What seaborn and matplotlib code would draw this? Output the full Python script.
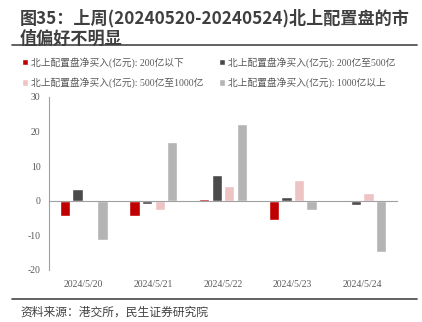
import matplotlib
matplotlib.use("Agg")
import matplotlib.pyplot as plt
from matplotlib.lines import Line2D
from matplotlib.ticker import FixedLocator
import seaborn as sns
import pandas as pd

# Daily net buying by Northbound holdings, split by market-cap bucket (100M CNY)
dates = ["2024/5/20", "2024/5/21", "2024/5/22", "2024/5/23", "2024/5/24"]
series_names = [
    "北上配置盘净买入(亿元): 200亿以下",
    "北上配置盘净买入(亿元): 200亿至500亿",
    "北上配置盘净买入(亿元): 500亿至1000亿",
    "北上配置盘净买入(亿元): 1000亿以上",
]
cap_below_200 = [-4.3, -4.3, 0.6, -5.7, 0.3]
cap_200_500 = [3.5, -0.9, 7.3, 1.0, -1.3]
cap_500_1000 = [-0.3, -2.6, 4.4, 5.9, 2.1]
cap_above_1000 = [-11.2, 17.1, 22.3, -2.6, -14.7]
colors = ["#C00000", "#4A4A4A", "#EDC3C3", "#B4B4B4"]

title_line1 = "图35：上周(20240520-20240524)北上配置盘的市"
title_line2 = "值偏好不明显"
source_text = "资料来源：港交所，民生证券研究院"

rows = []
for name, vals in zip(series_names, [cap_below_200, cap_200_500, cap_500_1000, cap_above_1000]):
    for d, v in zip(dates, vals):
        rows.append({"date": d, "series": name, "value": v})
df = pd.DataFrame(rows)

sns.set_style("white")
plt.rcParams["font.family"] = ["Noto Sans CJK SC", "DejaVu Sans"]
plt.rcParams["axes.unicode_minus"] = False
serif = ["Liberation Serif", "Noto Sans CJK SC"]

fig = plt.figure(figsize=(4.22, 3.22), dpi=100)
ax = fig.add_axes([0.116, 0.1615, 0.825, 0.5375])

sns.barplot(data=df, x="date", y="value", hue="series", hue_order=series_names,
            order=dates, palette=colors, width=0.72, gap=0.18, saturation=1,
            errorbar=None, ax=ax)

ax.set_xlim(-0.5, len(dates) - 0.5)
ax.set_ylim(-20, 30)
ax.set_yticks([-20, -10, 0, 10, 20, 30])
ax.set_xlabel("")
ax.set_ylabel("")

axis_gray = "#A0A0A0"
label_gray = "#595959"
for s in ["top", "right"]:
    ax.spines[s].set_visible(False)
ax.spines["left"].set_color(axis_gray)
ax.spines["left"].set_linewidth(0.8)
ax.spines["bottom"].set_position(("data", 0))
ax.spines["bottom"].set_color(axis_gray)
ax.spines["bottom"].set_linewidth(0.8)

ax.tick_params(axis="y", direction="out", length=3, width=0.8, color=axis_gray,
               labelsize=7, labelcolor=label_gray, pad=3)
ax.tick_params(axis="x", which="major", length=0, labelsize=7,
               labelcolor=label_gray, pad=57)
ax.xaxis.set_minor_locator(FixedLocator([i + 0.5 for i in range(len(dates))]))
ax.tick_params(axis="x", which="minor", direction="in", length=3, width=0.8,
               color=axis_gray)
for lab in ax.get_xticklabels() + ax.get_yticklabels():
    lab.set_family(serif)

# Legend laid out row by row: two entries per row
handles, labels = ax.get_legend_handles_labels()
if ax.legend_:
    ax.legend_.remove()
order = [0, 2, 1, 3]
fig.legend([handles[i] for i in order], [labels[i] for i in order], ncol=2,
           loc="upper left", bbox_to_anchor=(0.052, 1 - 57 / 322), frameon=False,
           prop={"family": serif, "size": 7}, labelcolor=label_gray,
           handlelength=0.65, handleheight=0.65, handletextpad=0.3,
           columnspacing=1.6, labelspacing=1.0, borderaxespad=0, borderpad=0)

title_color = "#3F3F3F"
fig.text(20 / 422, 1 - 9 / 322, title_line1, fontsize=12.3, fontweight="bold",
         color=title_color, va="top", ha="left")
fig.text(20 / 422, 1 - 30 / 322, title_line2, fontsize=12.3, fontweight="bold",
         color=title_color, va="top", ha="left")
fig.add_artist(Line2D([12 / 422, 417 / 422], [1 - 45 / 322] * 2,
                      color="#555555", linewidth=1.3))
fig.add_artist(Line2D([12 / 422, 417 / 422], [1 - 299 / 322] * 2,
                      color="#555555", linewidth=1.3))
fig.text(20 / 422, 1 - 312 / 322, source_text, fontsize=8.5, color="#404040",
         va="center", ha="left")

fig.savefig("out.png", dpi=100)
